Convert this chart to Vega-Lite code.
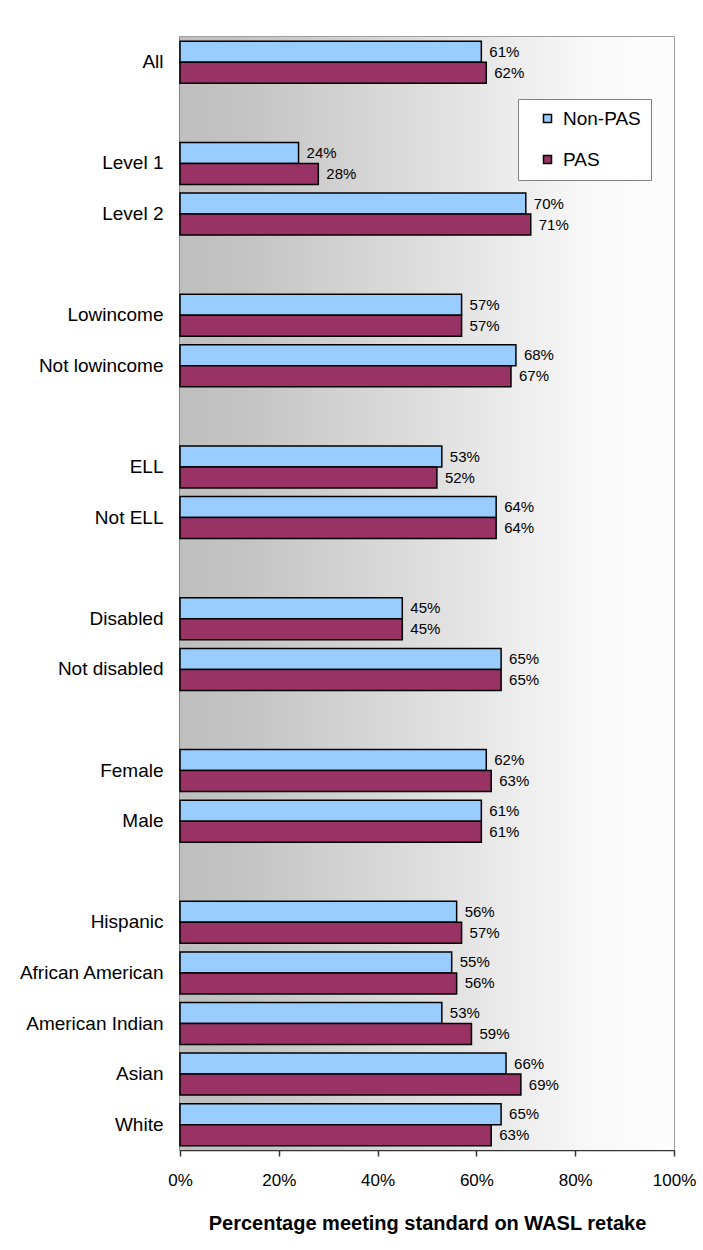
{
  "$schema": "https://vega.github.io/schema/vega-lite/v6.json",
  "autosize": "none",
  "width": 494,
  "height": 1113,
  "padding": {"left": 180, "top": 37, "right": 29, "bottom": 100},
  "background": "white",
  "datasets": {
    "bars": [
      {"group": "All", "series": "Non-PAS", "value": 0.61},
      {"group": "All", "series": "PAS", "value": 0.62},
      {"group": "Level 1", "series": "Non-PAS", "value": 0.24},
      {"group": "Level 1", "series": "PAS", "value": 0.28},
      {"group": "Level 2", "series": "Non-PAS", "value": 0.70},
      {"group": "Level 2", "series": "PAS", "value": 0.71},
      {"group": "Lowincome", "series": "Non-PAS", "value": 0.57},
      {"group": "Lowincome", "series": "PAS", "value": 0.57},
      {"group": "Not lowincome", "series": "Non-PAS", "value": 0.68},
      {"group": "Not lowincome", "series": "PAS", "value": 0.67},
      {"group": "ELL", "series": "Non-PAS", "value": 0.53},
      {"group": "ELL", "series": "PAS", "value": 0.52},
      {"group": "Not ELL", "series": "Non-PAS", "value": 0.64},
      {"group": "Not ELL", "series": "PAS", "value": 0.64},
      {"group": "Disabled", "series": "Non-PAS", "value": 0.45},
      {"group": "Disabled", "series": "PAS", "value": 0.45},
      {"group": "Not disabled", "series": "Non-PAS", "value": 0.65},
      {"group": "Not disabled", "series": "PAS", "value": 0.65},
      {"group": "Female", "series": "Non-PAS", "value": 0.62},
      {"group": "Female", "series": "PAS", "value": 0.63},
      {"group": "Male", "series": "Non-PAS", "value": 0.61},
      {"group": "Male", "series": "PAS", "value": 0.61},
      {"group": "Hispanic", "series": "Non-PAS", "value": 0.56},
      {"group": "Hispanic", "series": "PAS", "value": 0.57},
      {"group": "African American", "series": "Non-PAS", "value": 0.55},
      {"group": "African American", "series": "PAS", "value": 0.56},
      {"group": "American Indian", "series": "Non-PAS", "value": 0.53},
      {"group": "American Indian", "series": "PAS", "value": 0.59},
      {"group": "Asian", "series": "Non-PAS", "value": 0.66},
      {"group": "Asian", "series": "PAS", "value": 0.69},
      {"group": "White", "series": "Non-PAS", "value": 0.65},
      {"group": "White", "series": "PAS", "value": 0.63}
    ],
    "backdrop": [{"from": 0, "to": 1}]
  },
  "layer": [
    {
      "data": {"name": "backdrop"},
      "mark": {
        "type": "rect",
        "fill": {
          "gradient": "linear",
          "x1": 0, "y1": 0, "x2": 1, "y2": 0,
          "stops": [
            {"offset": 0, "color": "#bfbfbf"},
            {"offset": 0.12, "color": "#c3c3c3"},
            {"offset": 0.5, "color": "#dedede"},
            {"offset": 0.82, "color": "#f8f8f8"},
            {"offset": 1, "color": "#fdfdfd"}
          ]
        }
      },
      "encoding": {
        "x": {
          "field": "from",
          "type": "quantitative",
          "scale": {"domain": [0, 1], "nice": false},
          "axis": {
            "title": "Percentage meeting standard on WASL retake",
            "format": ".0%",
            "values": [0, 0.2, 0.4, 0.6, 0.8, 1],
            "grid": false,
            "labelFlush": false,
            "tickSize": 6,
            "tickColor": "#333333",
            "tickWidth": 1.5,
            "domainColor": "#333333",
            "domainWidth": 1.5,
            "labelFontSize": 17,
            "labelPadding": 16,
            "labelColor": "black",
            "titleFontSize": 20,
            "titleFontWeight": "bold",
            "titleColor": "black",
            "titlePadding": 25
          }
        },
        "x2": {"field": "to"}
      }
    },
    {
      "data": {"name": "bars"},
      "mark": {"type": "bar", "stroke": "black", "strokeWidth": 1.5},
      "encoding": {
        "x": {"field": "value", "type": "quantitative"},
        "y": {
          "field": "group",
          "type": "nominal",
          "scale": {
            "domain": ["All", " ", "Level 1", "Level 2", "  ", "Lowincome", "Not lowincome", "   ", "ELL", "Not ELL", "    ", "Disabled", "Not disabled", "     ", "Female", "Male", "      ", "Hispanic", "African American", "American Indian", "Asian", "White"],
            "paddingInner": 0.17,
            "paddingOuter": 0.085
          },
          "axis": {
            "title": null,
            "ticks": false,
            "labelFontSize": 19,
            "labelPadding": 17,
            "labelColor": "black",
            "domainColor": "#333333",
            "domainWidth": 1.5
          }
        },
        "yOffset": {
          "field": "series",
          "type": "nominal",
          "sort": ["Non-PAS", "PAS"],
          "scale": {"paddingInner": 0, "paddingOuter": 0}
        },
        "color": {
          "field": "series",
          "type": "nominal",
          "scale": {"domain": ["Non-PAS", "PAS"], "range": ["#99CCFF", "#993366"]},
          "legend": {
            "title": null,
            "orient": "none",
            "legendX": 338,
            "legendY": 62,
            "symbolType": "square",
            "symbolSize": 64,
            "symbolStrokeColor": "black",
            "symbolStrokeWidth": 1.5,
            "symbolOffset": 10,
            "labelFontSize": 19,
            "labelColor": "black",
            "rowPadding": 21,
            "padding": 10,
            "fillColor": "white",
            "strokeColor": "#808080",
            "labelOffset": 6
          }
        }
      }
    },
    {
      "data": {"name": "bars"},
      "mark": {"type": "text", "align": "left", "dx": 8, "baseline": "middle", "fontSize": 15, "color": "black"},
      "encoding": {
        "x": {"field": "value", "type": "quantitative"},
        "y": {"field": "group", "type": "nominal"},
        "yOffset": {"field": "series", "type": "nominal", "sort": ["Non-PAS", "PAS"]},
        "text": {"field": "value", "type": "quantitative", "format": ".0%"}
      }
    }
  ],
  "config": {
    "font": "Liberation Sans",
    "view": {"stroke": "#808080", "strokeWidth": 1.5}
  }
}
